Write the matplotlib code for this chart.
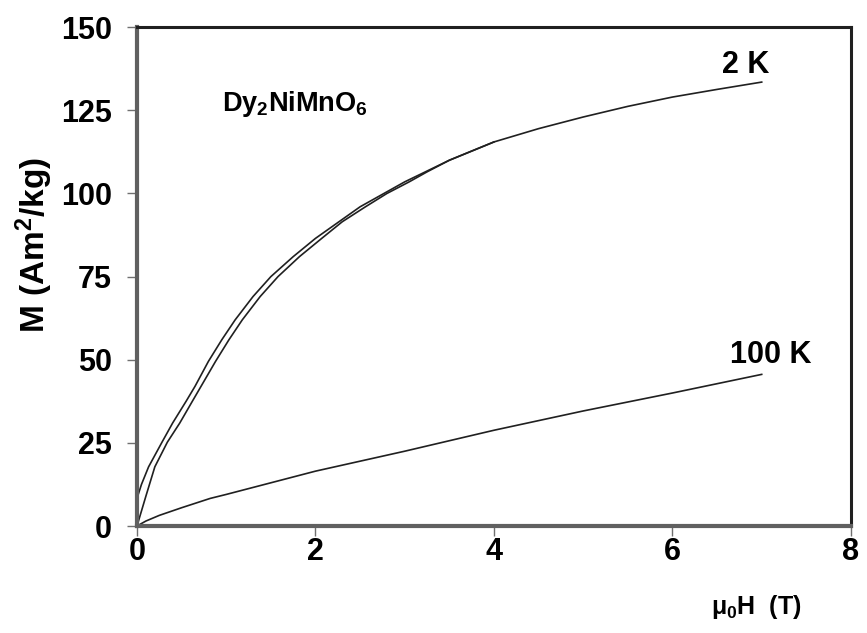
import matplotlib
matplotlib.use("Agg")
import matplotlib.pyplot as plt

# 2 K: Abwaerts-Ast (mit Remanenz) und Neukurve
h_2k_ab = [0, 0.05, 0.13, 0.28, 0.4, 0.55, 0.65, 0.8, 0.95, 1.1, 1.3, 1.5, 1.75, 2.0, 2.5,
           3.0, 3.5, 4.0, 4.5, 5.0, 5.5, 6.0, 6.5, 7.0]
m_2k_ab = [8.3, 12.5, 17.8, 25.2, 31, 37.5, 42, 49.5, 56, 62, 69, 75, 81, 86.5, 96,
           103.5, 110, 115.5, 119.5, 123, 126.2, 129, 131.3, 133.5]
h_2k_auf = [0, 0.1, 0.2, 0.34, 0.48, 0.62, 0.75, 0.88, 1.03, 1.18, 1.38, 1.58, 1.82, 2.07,
            2.3, 2.56, 2.8, 3.05, 3.25, 3.5, 4.0]
m_2k_auf = [0, 9, 17.8, 25.2, 31, 37.5, 43.5, 49.5, 56, 62, 69, 75, 81, 86.5,
            91.5, 96, 100, 103.5, 106.5, 110, 115.5]

# 100 K
h_100k = [0, 0.1, 0.25, 0.5, 0.82, 1.0, 1.5, 2.0, 3.0, 4.0, 5.0, 6.0, 7.0]
m_100k = [0, 1.5, 3.2, 5.5, 8.3, 9.5, 13, 16.5, 22.5, 28.8, 34.6, 40, 45.6]

x_ticks = [0, 2, 4, 6, 8]
y_ticks = [0, 25, 50, 75, 100, 125, 150]

plt.rcParams["font.family"] = ["Liberation Sans", "DejaVu Sans"]
plt.rcParams["font.weight"] = "bold"
plt.rcParams["mathtext.fontset"] = "custom"
plt.rcParams["mathtext.rm"] = "Liberation Sans:bold"
plt.rcParams["mathtext.it"] = "Liberation Sans:bold"
plt.rcParams["mathtext.bf"] = "Liberation Sans:bold"

fig = plt.figure(figsize=(8.67, 6.33), dpi=100)
ax = fig.add_axes([0.158, 0.169, 0.8235, 0.788])

ax.plot(h_2k_ab, m_2k_ab, color="#202020", linewidth=1.2)
ax.plot(h_2k_auf, m_2k_auf, color="#202020", linewidth=1.2)
ax.plot(h_100k, m_100k, color="#202020", linewidth=1.2)

ax.set_xlim(0, 8)
ax.set_ylim(0, 150)
ax.set_xticks(x_ticks)
ax.set_yticks(y_ticks)
ax.tick_params(direction="out", length=7, width=1.0, color="#707070", labelsize=22)
ax.tick_params(axis="y", pad=11)
ax.tick_params(axis="x", pad=1)
for lab in ax.get_xticklabels() + ax.get_yticklabels():
    lab.set_fontweight("bold")

for s in ["left", "bottom"]:
    ax.spines[s].set_color("#606060")
    ax.spines[s].set_linewidth(3)
for s in ["top", "right"]:
    ax.spines[s].set_color("#202020")
    ax.spines[s].set_linewidth(2.2)

ax.set_ylabel("M (Am$^2$/kg)", fontsize=24, fontweight="bold")
ax.yaxis.set_label_coords(-0.115, 0.563)
ax.set_xlabel("μ$_0$H  (T)", fontsize=18, fontweight="bold")
ax.xaxis.set_label_coords(0.867, -0.134)

ax.text(0.95, 127, "Dy$_2$NiMnO$_6$", fontsize=19.5, fontweight="bold",
        va="center", ha="left")
ax.text(6.55, 138.5, "2 K", fontsize=22, fontweight="bold", va="center", ha="left")
ax.text(6.64, 51.4, "100 K", fontsize=22, fontweight="bold", va="center", ha="left")

fig.savefig("out.png", dpi=100)
